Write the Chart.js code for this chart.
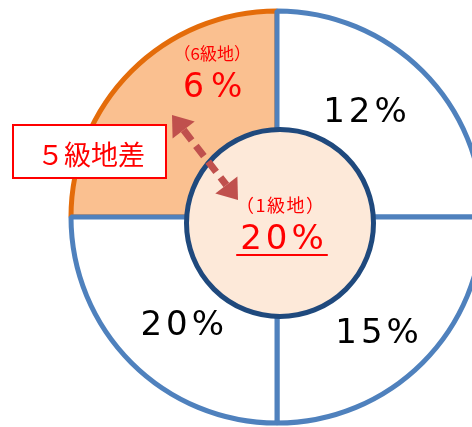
<!DOCTYPE html>
<html>
<head>
<meta charset="utf-8">
<script src="https://cdn.jsdelivr.net/npm/chart.js@4.4.0/dist/chart.umd.min.js"></script>
<style>
html, body { margin: 0; padding: 0; width: 472px; height: 427px; overflow: hidden; background: #ffffff; }
#wrap { position: relative; width: 472px; height: 427px; overflow: hidden; }
#wrap canvas { position: absolute; left: 0; top: 0; }
</style>
</head>
<body>
<div id="wrap">
  <canvas id="outer" width="472" height="427"></canvas>
  <canvas id="inner" width="472" height="427"></canvas>
</div>
<script>
// ---- data ----
// outer ring: four equal quarters, clockwise from the upper-left quarter
const ringCategories = ['6級地', '', '', ''];
const ringValues = [6, 12, 15, 20];          // percentages printed in each quarter
const ringShares = [1, 1, 1, 1];             // each quarter is the same size
// centre disc
const centerCategory = ['1級地'];
const centerValue = [20];
// annotation
const diffLabel = '５級地差';

const FONT = "'Noto Sans CJK JP', 'Noto Sans', sans-serif";
const NUMFONT = "'DejaVu Sans', 'Noto Sans CJK JP', sans-serif";
const RED = '#FF0000';

function spacedText(ctx, str, cx, cy, size, spacing) {
  const chars = Array.from(str);
  const widths = chars.map(c => ctx.measureText(c).width);
  const total = widths.reduce((a, b) => a + b, 0) + spacing * (chars.length - 1);
  let x = cx - total / 2;
  const base = cy + 0.365 * size;
  ctx.textAlign = 'left';
  ctx.textBaseline = 'alphabetic';
  chars.forEach((c, i) => { ctx.fillText(c, x, base); x += widths[i] + spacing; });
  return { left: cx - total / 2, right: cx + total / 2 };
}

// label layout per quarter: radius and angular nudge (deg) from the quarter's middle
const ringLabelLayout = [
  { r: 147, da: 19.1, size: 33, spacing: 7, color: RED, sub: { r: 176, da: 23.4, size: 17, spacing: 0 } },
  { r: 138.5, da: -5.6, size: 34, spacing: 4, color: '#000000' },
  { r: 151, da: 3.5, size: 34, spacing: 4, color: '#000000' },
  { r: 142, da: -3.1, size: 34, spacing: 4, color: '#000000' }
];

const ringLabels = {
  id: 'ringLabels',
  afterDatasetsDraw(chart) {
    const ctx = chart.ctx;
    const meta = chart.getDatasetMeta(0);
    ctx.save();
    meta.data.forEach((el, i) => {
      const L = ringLabelLayout[i];
      const mid = (el.startAngle + el.endAngle) / 2;
      const a = mid + L.da * Math.PI / 180;
      const x = el.x + L.r * Math.cos(a);
      const y = el.y + L.r * Math.sin(a);
      ctx.fillStyle = L.color;
      ctx.font = `${L.size}px ${NUMFONT}`;
      spacedText(ctx, ringValues[i] + '%', x, y, L.size, L.spacing);
      if (L.sub) {
        const a2 = mid + L.sub.da * Math.PI / 180;
        ctx.font = `${L.sub.size}px ${FONT}`;
        spacedText(ctx, '（' + ringCategories[i] + '）', el.x + L.sub.r * Math.cos(a2), el.y + L.sub.r * Math.sin(a2), L.sub.size, L.sub.spacing);
      }
    });
    ctx.restore();
  }
};

new Chart(document.getElementById('outer'), {
  type: 'pie',
  data: {
    labels: ringCategories,
    datasets: [{
      data: ringShares,
      backgroundColor: ['#FAC090', '#FFFFFF', '#FFFFFF', '#FFFFFF'],
      borderColor: ['#E46C0A', '#4F81BD', '#4F81BD', '#4F81BD'],
      borderWidth: 5,
      radius: 206,
      rotation: -90,
      clip: false
    }]
  },
  options: {
    responsive: false,
    animation: false,
    events: [],
    radius: 206,
    rotation: -90,
    layout: { padding: { left: 82, top: 7, right: 0, bottom: 0 } },
    plugins: { legend: { display: false }, tooltip: { enabled: false } }
  },
  plugins: [ringLabels]
});

const centerDecor = {
  id: 'centerDecor',
  afterDatasetsDraw(chart) {
    const ctx = chart.ctx;
    const el = chart.getDatasetMeta(0).data[0];
    ctx.save();
    // ring
    ctx.beginPath();
    ctx.arc(el.x, el.y, el.outerRadius - 0.5, 0, Math.PI * 2);
    ctx.lineWidth = 5;
    ctx.strokeStyle = '#1F497D';
    ctx.stroke();
    // labels
    ctx.fillStyle = RED;
    ctx.font = `18px ${FONT}`;
    spacedText(ctx, '（' + centerCategory[0] + '）', el.x, el.y - 18, 18, 1.5);
    ctx.font = `34px ${NUMFONT}`;
    const ext = spacedText(ctx, centerValue[0] + '%', el.x + 2, el.y + 14, 34, 4);
    ctx.fillRect(ext.left - 4, el.y + 31, (ext.right - ext.left) + 8, 2);

    // dashed double arrow between 6級地 quarter and centre
    const tip1 = { x: el.x - 108, y: el.y - 108 };
    const tip2 = { x: el.x - 42, y: el.y - 23 };
    const dx = tip2.x - tip1.x, dy = tip2.y - tip1.y;
    const len = Math.hypot(dx, dy);
    const ux = dx / len, uy = dy / len;
    const head = 19, half = 14;
    ctx.strokeStyle = '#C0504D';
    ctx.fillStyle = '#C0504D';
    ctx.lineWidth = 7;
    ctx.setLineDash([13, 7]);
    ctx.beginPath();
    ctx.moveTo(tip1.x + ux * head, tip1.y + uy * head);
    ctx.lineTo(tip2.x - ux * head, tip2.y - uy * head);
    ctx.stroke();
    ctx.setLineDash([]);
    const drawHead = (t, sx, sy) => {
      const bx = t.x + sx * head, by = t.y + sy * head;
      ctx.beginPath();
      ctx.moveTo(t.x, t.y);
      ctx.lineTo(bx - sy * half, by + sx * half);
      ctx.lineTo(bx + sy * half, by - sx * half);
      ctx.closePath();
      ctx.fill();
    };
    drawHead(tip1, ux, uy);
    drawHead(tip2, -ux, -uy);

    // label box
    const bx0 = el.x - 267, by0 = el.y - 98, bw = 153, bh = 53;
    ctx.fillStyle = '#FFFFFF';
    ctx.fillRect(bx0, by0, bw, bh);
    ctx.strokeStyle = RED;
    ctx.lineWidth = 2;
    ctx.strokeRect(bx0, by0, bw, bh);
    ctx.fillStyle = RED;
    ctx.font = `27px ${FONT}`;
    spacedText(ctx, diffLabel, bx0 + 78, by0 + 30, 27, 0);
    ctx.restore();
  }
};

new Chart(document.getElementById('inner'), {
  type: 'pie',
  data: {
    labels: centerCategory,
    datasets: [{
      data: centerValue,
      backgroundColor: ['#FDE9D9'],
      borderWidth: 0,
      radius: 94,
      clip: false
    }]
  },
  options: {
    responsive: false,
    animation: false,
    events: [],
    radius: 94,
    layout: { padding: { left: 88, top: 19, right: 0, bottom: 0 } },
    plugins: { legend: { display: false }, tooltip: { enabled: false } }
  },
  plugins: [centerDecor]
});
</script>
</body>
</html>
